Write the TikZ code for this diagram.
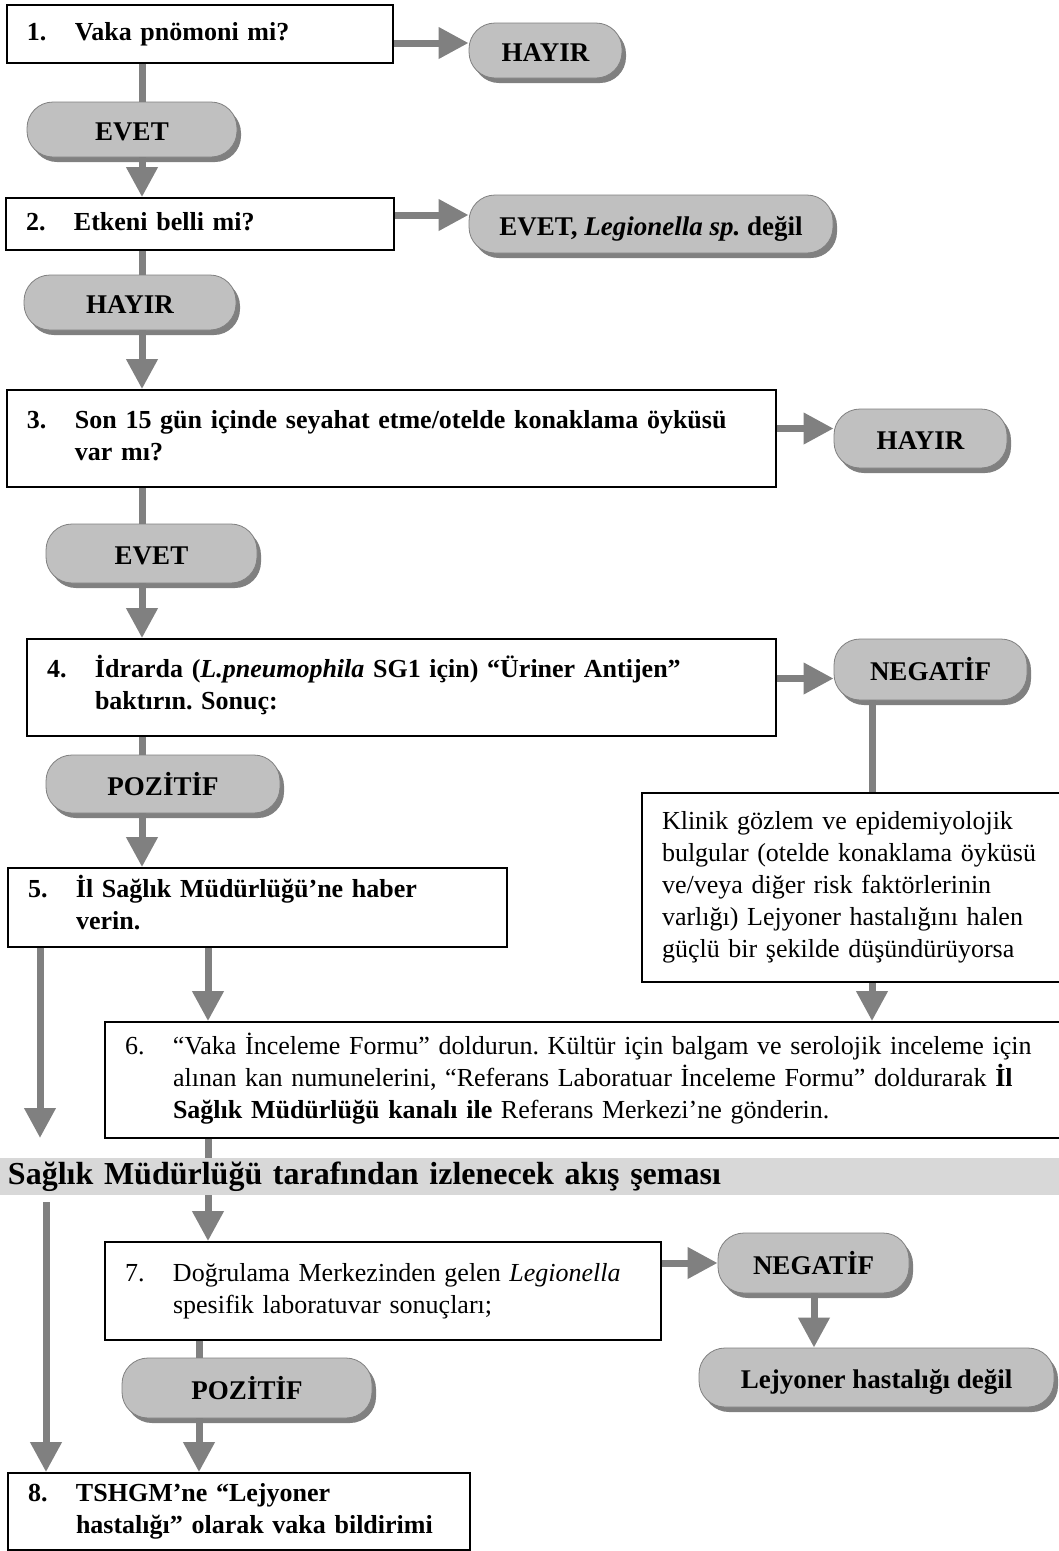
\documentclass[tikz,border=0pt]{standalone}
\usepackage{fontspec}
\setmainfont{Liberation Serif}
\usetikzlibrary{arrows.meta,shadows}
\setlength{\parindent}{0pt}
\frenchspacing
\definecolor{ink}{HTML}{000000}
\definecolor{pillgray}{HTML}{C0C0C0}
\definecolor{shade}{HTML}{808080}
\definecolor{flowgray}{HTML}{808080}
\definecolor{bandgray}{HTML}{D8D8D8}

% numbered step: number column, then the lines of the step
\newcommand{\stepno}[2]{\begin{tabular}{@{}p{48pt}@{}l@{}}#1&\begin{tabular}[t]{@{}l@{}}#2\end{tabular}\end{tabular}}

\begin{document}
\begin{tikzpicture}[
  x=1pt,y=-1pt,font=\fontsize{26}{32}\selectfont,
  box/.style={draw=ink,line width=1.8pt,fill=white,align=left,
              inner xsep=20pt,inner ysep=0pt},
  bold/.style={font=\fontsize{26}{32}\selectfont\bfseries},
  pill/.style={draw=shade,line width=.8pt,fill=pillgray,rounded corners=26pt,
               inner sep=0pt,text height=22pt,text depth=0pt,
               font=\fontsize{27}{32}\selectfont\bfseries,
               drop shadow={shadow xshift=4pt,shadow yshift=-5pt,fill=shade,opacity=1}},
  band/.style={fill=bandgray,inner xsep=8pt,inner ysep=0pt,align=left,
               font=\fontsize{32}{36}\selectfont\bfseries},
  link/.style={draw=flowgray,line width=7pt},
  flow/.style={link,-{Triangle[length=30pt,width=30pt]}}
]
\useasboundingbox (0,0) rectangle (1059,1551);
\clip (0,0) rectangle (1059,1551);

% 1. Pneumonia?
\node[box,bold,text width=346pt,minimum height=58pt] (box1) at (200,34)
  {\stepno{1.}{Vaka pnömoni mi?}};
\node[pill,minimum width=153pt,minimum height=55pt] (hayir1) at (545.5,50.5) {HAYIR};
\node[pill,minimum width=210pt,minimum height=55pt] (evet1) at (132,129.5) {EVET};

% 2. Known agent?
\node[box,bold,text width=348pt,minimum height=52pt] (box2) at (200,224)
  {\stepno{2.}{Etkeni belli mi?}};
\node[pill,minimum width=364pt,minimum height=58pt] (etken) at (651,224)
  {EVET, \textit{Legionella sp.} değil};
\node[pill,minimum width=212pt,minimum height=55pt] (hayir2) at (130,302.5) {HAYIR};

% 3. Travel / hotel stay
\node[box,bold,text width=729pt,minimum height=97pt] (box3) at (391.5,438.5)
  {\stepno{3.}{Son 15 gün içinde seyahat etme/otelde konaklama öyküsü\\var mı?}};
\node[pill,minimum width=173pt,minimum height=59pt] (hayir3) at (920.5,438.5) {HAYIR};
\node[pill,minimum width=211pt,minimum height=59pt] (evet3) at (151.5,553.5) {EVET};

% 4. Urinary antigen
\node[box,bold,text width=709pt,minimum height=97pt] (box4) at (401.5,687.5)
  {\stepno{4.}{İdrarda (\textit{L.pneumophila} SG1 için) “Üriner Antijen”\\baktırın. Sonuç:}};
\node[pill,minimum width=193pt,minimum height=61pt] (negatif1) at (930.5,669.5) {NEGATİF};
\node[pill,minimum width=234pt,minimum height=58pt] (pozitif1) at (163,784) {POZİTİF};

% 5. Notify, or still suspected
\node[box,bold,text width=459pt,minimum height=79pt] (box5) at (257.5,907.5)
  {\stepno{5.}{İl Sağlık Müdürlüğü’ne haber\\verin.}};
\node[box,text width=384pt,minimum height=189pt] (klinik) at (854,887.5)
  {Klinik gözlem ve epidemiyolojik\\bulgular (otelde konaklama öyküsü\\ve/veya diğer risk faktörlerinin\\varlığı) Lejyoner hastalığını halen\\güçlü bir şekilde düşündürüyorsa};

% 6. Forms and samples
\node[box,text width=921pt,minimum height=116pt] (box6) at (585.5,1080)
  {\stepno{6.}{“Vaka İnceleme Formu” doldurun. Kültür için balgam ve serolojik inceleme için\\alınan kan numunelerini, “Referans Laboratuar İnceleme Formu” doldurarak \textbf{İl}\\\textbf{Sağlık Müdürlüğü kanalı ile} Referans Merkezi’ne gönderin.}};

\node[band,text width=1043pt,minimum height=37pt] (banner) at (529.5,1176.5)
  {Sağlık Müdürlüğü tarafından izlenecek akış şeması};

% 7. Reference lab result
\node[box,text width=516pt,minimum height=98pt] (box7) at (383,1291)
  {\stepno{7.}{Doğrulama Merkezinden gelen \textit{Legionella}\\spesifik laboratuvar sonuçları;}};
\node[pill,minimum width=191pt,minimum height=60pt] (negatif2) at (813.5,1263) {NEGATİF};
\node[pill,minimum width=355pt,minimum height=59pt] (lejyoner) at (876.5,1377.5) {Lejyoner hastalığı değil};
\node[pill,minimum width=250pt,minimum height=60pt] (pozitif2) at (247,1388) {POZİTİF};

% 8. Report
\node[box,bold,text width=422pt,minimum height=77pt] (box8) at (239,1511.5)
  {\stepno{8.}{TSHGM’ne “Lejyoner\\hastalığı” olarak vaka bildirimi}};

% connectors
\coordinate (colA) at (142,0);
\coordinate (colB) at (208,0);
\coordinate (colC) at (872,0);
\coordinate (colD) at (199,0);
\coordinate (colE) at (814,0);
\coordinate (colF) at (46,0);
\coordinate (stop5) at (40,1138);

\draw[link] (box1.south -| colA) -- (evet1.north -| colA);
\draw[flow] (evet1.south -| colA) -- (box2.north -| colA);
\draw[link] (box2.south -| colA) -- (hayir2.north -| colA);
\draw[flow] (hayir2.south -| colA) -- (box3.north -| colA);
\draw[link] (box3.south -| colA) -- (evet3.north -| colA);
\draw[flow] (evet3.south -| colA) -- (box4.north -| colA);
\draw[link] (box4.south -| colA) -- (pozitif1.north -| colA);
\draw[flow] (pozitif1.south -| colA) -- (box5.north -| colA);

\draw[flow] ([yshift=-9pt]box1.east) -- ([yshift=-9pt]box1.east -| hayir1.west);
\draw[flow] ([yshift=9pt]box2.east) -- ([yshift=9pt]box2.east -| etken.west);
\draw[flow] ([yshift=10pt]box3.east) -- ([yshift=10pt]box3.east -| hayir3.west);
\draw[flow] ([yshift=9pt]box4.east) -- ([yshift=9pt]box4.east -| negatif1.west);

\draw[link] (negatif1.south -| colC) -- (klinik.north -| colC);
\draw[flow] (klinik.south -| colC) -- (box6.north -| colC);
\draw[flow] (box5.south -| colB) -- (box6.north -| colB);
\draw[flow] (box5.south -| stop5) -- (stop5);
\draw[link] (box6.south -| colB) -- (banner.north -| colB);
\draw[flow] (banner.south -| colB) -- (box7.north -| colB);
\draw[flow] ([yshift=-7pt]banner.south -| colF) -- (box8.north -| colF);

\draw[flow] (negatif2.west -| box7.east) -- (negatif2.west);
\draw[flow] (negatif2.south -| colE) -- (lejyoner.north -| colE);
\draw[link] (box7.south -| colD) -- (pozitif2.north -| colD);
\draw[flow] (pozitif2.south -| colD) -- (box8.north -| colD);

\end{tikzpicture}
\end{document}
